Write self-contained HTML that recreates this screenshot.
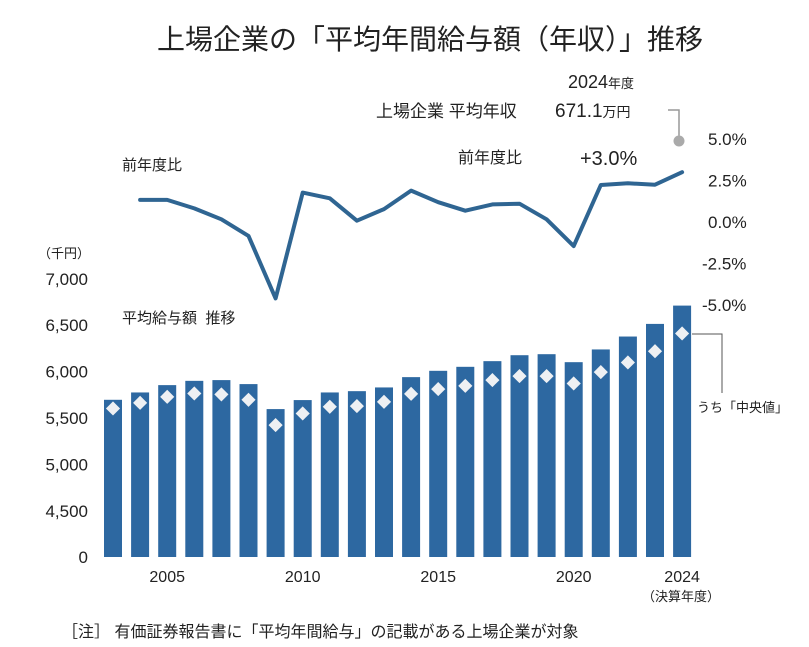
<!DOCTYPE html>
<html><head><meta charset="utf-8">
<style>
html,body{margin:0;padding:0;background:#fff;}
svg{display:block;font-family:"Liberation Sans","Noto Sans CJK JP",sans-serif;}
</style></head>
<body>
<svg id="chart" width="809" height="647" viewBox="0 0 809 647" xmlns="http://www.w3.org/2000/svg">
<text x="430" y="49" font-size="28" text-anchor="middle" fill="#222">上場企業の「平均年間給与額（年収）」推移</text>
<text x="568" y="88" font-size="18" fill="#222">2024<tspan font-size="13">年度</tspan></text>
<text x="376" y="117" font-size="17" fill="#222">上場企業 平均年収</text>
<text x="555" y="117" font-size="19" fill="#222">671.1<tspan font-size="14">万円</tspan></text>
<polyline points="668,110 679,110 679,138" fill="none" stroke="#999" stroke-width="1.5"/>
<circle cx="679" cy="141" r="5.5" fill="#aaa"/>
<text x="458" y="163" font-size="16" fill="#222">前年度比</text>
<text x="580" y="165" font-size="20" fill="#222">+3.0%</text>
<text x="122" y="170" font-size="15" fill="#222">前年度比</text>
<text x="122" y="323" font-size="15" fill="#222">平均給与額&#160;&#160;推移</text>
<text x="38" y="258" font-size="13" fill="#222">（千円）</text>
<g id="leftTicks"></g>
<g id="rightTicks"></g>
<g id="bars"></g>
<g id="diamonds"></g>
<g id="xTicks"></g>
<path id="yoyLine" fill="none" stroke="#2f6592" stroke-width="4" stroke-linejoin="round" stroke-linecap="round"/>
<polyline points="692,334 722,334 722,393" fill="none" stroke="#555" stroke-width="1"/>
<text x="697" y="412" font-size="13" fill="#222">うち「中央値」</text>
<text x="681" y="601" font-size="13" text-anchor="middle" fill="#222">（決算年度）</text>
<text x="62" y="637" font-size="16" fill="#222">［注］ 有価証券報告書に「平均年間給与」の記載がある上場企業が対象</text>
</svg>
<script>
const years = [2003,2004,2005,2006,2007,2008,2009,2010,2011,2012,2013,2014,2015,2016,2017,2018,2019,2020,2021,2022,2023,2024];
const avgSalary = [5697,5776,5855,5901,5909,5866,5597,5694,5776,5790,5830,5941,6009,6052,6113,6177,6188,6102,6239,6378,6514,6711];
const medianSalary = [5604,5664,5729,5765,5755,5697,5425,5550,5622,5629,5675,5761,5812,5847,5909,5952,5952,5873,5995,6099,6220,6411];
const yoyYears = [2004,2005,2006,2007,2008,2009,2010,2011,2012,2013,2014,2015,2016,2017,2018,2019,2020,2021,2022,2023,2024];
const yoyPct = [1.33,1.33,0.82,0.16,-0.84,-4.6,1.77,1.43,0.08,0.78,1.89,1.19,0.68,1.06,1.1,0.16,-1.45,2.23,2.33,2.25,3.0];
const leftTickValues = [0,4500,5000,5500,6000,6500,7000];
const leftTickLabels = ["0","4,500","5,000","5,500","6,000","6,500","7,000"];
const rightTickValues = [5,2.5,0,-2.5,-5];
const rightTickLabels = ["5.0%","2.5%","0.0%","-2.5%","-5.0%"];
const xTickYears = [2005,2010,2015,2020,2024];

const NS="http://www.w3.org/2000/svg";
function xScale(yr){return 113+(yr-2003)*27.1;}
function yLeft(v){return v<=0?557:511-(v-4500)*0.0929;}
function yRight(p){return 222-p*16.6;}
function mk(tag,parent){const e=document.createElementNS(NS,tag);document.getElementById(parent).appendChild(e);return e;}

leftTickValues.forEach((v,i)=>{
  const t=mk('text','leftTicks');
  
  
  t.setAttribute('x',88);t.setAttribute('y',yLeft(v)+6);
  t.setAttribute('font-size','17');t.setAttribute('text-anchor','end');t.setAttribute('fill','#222');
  t.textContent=leftTickLabels[i];
});
rightTickValues.forEach((v,i)=>{
  const t=mk('text','rightTicks');
  
  
  t.setAttribute('x',v<0?702:708);t.setAttribute('y',yRight(v)+6);
  t.setAttribute('font-size','17');t.setAttribute('fill','#222');
  t.textContent=rightTickLabels[i];
});
years.forEach((yr,i)=>{
  const r=mk('rect','bars');
  
  
  const y=yLeft(avgSalary[i]);
  r.setAttribute('x',xScale(yr)-9);r.setAttribute('y',y);
  r.setAttribute('width',18);r.setAttribute('height',557-y);
  r.setAttribute('fill','#2d68a1');
  const d=mk('rect','diamonds');
  
  
  const cx=xScale(yr),cy=yLeft(medianSalary[i]);
  d.setAttribute('x',cx-5);d.setAttribute('y',cy-5);d.setAttribute('width',10);d.setAttribute('height',10);
  d.setAttribute('transform','rotate(45 '+cx+' '+cy+')');
  d.setAttribute('fill','#eef0f3');
});
xTickYears.forEach(yr=>{
  const t=mk('text','xTicks');
  
  
  t.setAttribute('x',xScale(yr));t.setAttribute('y',582);
  t.setAttribute('font-size','16');t.setAttribute('text-anchor','middle');t.setAttribute('fill','#222');
  t.textContent=yr;
});
document.getElementById('yoyLine').setAttribute('d',yoyYears.map((yr,i)=>(i?'L':'M')+xScale(yr).toFixed(1)+','+yRight(yoyPct[i]).toFixed(1)).join(' '));
</script>
</body></html>
